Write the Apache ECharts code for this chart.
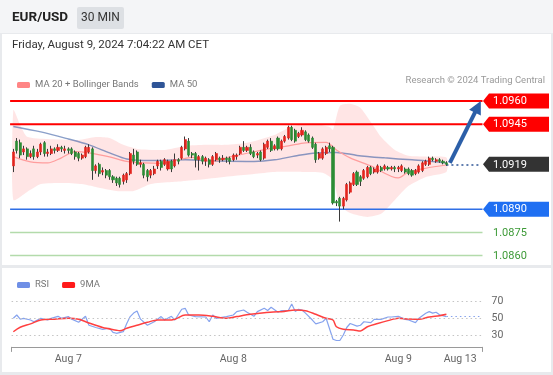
<!DOCTYPE html>
<html><head><meta charset="utf-8">
<script src="https://cdn.jsdelivr.net/npm/echarts@6/dist/echarts.min.js"></script>
<style>html,body{margin:0;padding:0;background:#fff}#c{width:553px;height:375px}</style>
</head><body><div id="c"></div>
<script>
// ---------- DATA ----------
// 30-minute bars, first bar Aug 6 2024 16:00 CET; 127 real bars + 10 empty future slots
const barCount = 137;
const startTime = Date.UTC(2024, 7, 6, 16, 0);
const categories = [];
for (let k = 0; k < barCount; k++) {
  const d = new Date(startTime + k * 1800000);
  categories.push(String(d.getUTCMonth() + 1).padStart(2, '0') + '-' + String(d.getUTCDate()).padStart(2, '0') + ' ' +
    String(d.getUTCHours()).padStart(2, '0') + ':' + String(d.getUTCMinutes()).padStart(2, '0'));
}
const xTickIndex = [16, 64, 112, 130];
const xTickText = ['Aug 7', 'Aug 8', 'Aug 9', 'Aug 13'];

// [open, close, low, high]
const candleOHLC = [
[1.0918,1.0927,1.0914,1.0929],[1.0934,1.0928,1.0926,1.0936],[1.0933,1.0925,1.0923,1.0935],[1.0927,1.0929,1.0925,1.0931],
[1.0929,1.0924,1.0922,1.0930],[1.0924,1.0926,1.0923,1.0928],[1.0929,1.0924,1.0922,1.0931],[1.0924,1.0927,1.0923,1.0929],
[1.0927,1.0932,1.0925,1.0933],[1.0933,1.0926,1.0924,1.0934],[1.0926,1.0927,1.0924,1.0929],[1.0926,1.0929,1.0925,1.0931],
[1.0929,1.0928,1.0926,1.0930],[1.0928,1.0930,1.0927,1.0932],[1.0930,1.0929,1.0927,1.0931],[1.0928,1.0929,1.0926,1.0931],
[1.0929,1.0928,1.0926,1.0930],[1.0929,1.0926,1.0925,1.0930],[1.0927,1.0924,1.0922,1.0928],[1.0926,1.0923,1.0921,1.0927],
[1.0923,1.0925,1.0922,1.0926],[1.0924,1.0930,1.0923,1.0931],[1.0927,1.0930,1.0926,1.0932],[1.0929,1.0915,1.0909,1.0930],
[1.0915,1.0918,1.0913,1.0919],[1.0919,1.0913,1.0911,1.0920],[1.0914,1.0915,1.0912,1.0917],[1.0915,1.0912,1.0910,1.0916],
[1.0915,1.0911,1.0909,1.0916],[1.0911,1.0909,1.0907,1.0912],[1.0910,1.0907,1.0905,1.0911],[1.0910,1.0906,1.0904,1.0911],
[1.0908,1.0912,1.0906,1.0913],[1.0909,1.0913,1.0907,1.0914],[1.0913,1.0926,1.0912,1.0927],[1.0925,1.0921,1.0919,1.0929],
[1.0927,1.0919,1.0918,1.0928],[1.0919,1.0920,1.0917,1.0922],[1.0919,1.0912,1.0910,1.0920],[1.0915,1.0911,1.0908,1.0916],
[1.0912,1.0915,1.0910,1.0916],[1.0913,1.0916,1.0912,1.0918],[1.0918,1.0921,1.0916,1.0922],[1.0921,1.0917,1.0915,1.0922],
[1.0919,1.0922,1.0918,1.0923],[1.0916,1.0921,1.0915,1.0922],[1.0921,1.0916,1.0914,1.0922],[1.0918,1.0922,1.0917,1.0926],
[1.0922,1.0921,1.0919,1.0923],[1.0923,1.0930,1.0922,1.0931],[1.0929,1.0935,1.0928,1.0937],[1.0934,1.0925,1.0924,1.0936],
[1.0926,1.0925,1.0923,1.0927],[1.0926,1.0922,1.0917,1.0927],[1.0922,1.0924,1.0915,1.0925],[1.0924,1.0921,1.0919,1.0925],
[1.0921,1.0923,1.0918,1.0924],[1.0922,1.0919,1.0917,1.0923],[1.0919,1.0924,1.0918,1.0925],[1.0922,1.0926,1.0921,1.0927],
[1.0923,1.0922,1.0920,1.0924],[1.0922,1.0923,1.0921,1.0925],[1.0923,1.0922,1.0920,1.0924],[1.0923,1.0921,1.0919,1.0924],
[1.0922,1.0925,1.0921,1.0926],[1.0924,1.0925,1.0922,1.0926],[1.0926,1.0930,1.0925,1.0931],[1.0930,1.0928,1.0927,1.0934],
[1.0928,1.0930,1.0927,1.0931],[1.0930,1.0926,1.0925,1.0932],[1.0927,1.0924,1.0923,1.0928],[1.0925,1.0926,1.0923,1.0927],
[1.0927,1.0922,1.0921,1.0928],[1.0923,1.0932,1.0922,1.0933],[1.0930,1.0934,1.0929,1.0935],[1.0934,1.0928,1.0927,1.0936],
[1.0929,1.0931,1.0928,1.0932],[1.0936,1.0929,1.0928,1.0937],[1.0929,1.0934,1.0928,1.0935],[1.0934,1.0937,1.0933,1.0938],
[1.0936,1.0943,1.0935,1.0944],[1.0943,1.0935,1.0934,1.0944],[1.0941,1.0934,1.0933,1.0942],[1.0937,1.0939,1.0936,1.0940],
[1.0938,1.0941,1.0937,1.0943],[1.0940,1.0935,1.0934,1.0941],[1.0938,1.0934,1.0933,1.0939],[1.0936,1.0930,1.0929,1.0937],
[1.0932,1.0922,1.0920,1.0933],[1.0923,1.0926,1.0922,1.0927],[1.0923,1.0929,1.0922,1.0930],[1.0926,1.0930,1.0925,1.0931],
[1.0931,1.0929,1.0927,1.0933],[1.0930,1.0894,1.0893,1.0931],[1.0895,1.0894,1.0892,1.0896],[1.0897,1.0892,1.0882,1.0898],
[1.0892,1.0897,1.0890,1.0898],[1.0896,1.0906,1.0895,1.0907],[1.0901,1.0907,1.0900,1.0908],[1.0906,1.0913,1.0905,1.0914],
[1.0914,1.0906,1.0905,1.0915],[1.0911,1.0908,1.0905,1.0912],[1.0910,1.0915,1.0909,1.0916],[1.0911,1.0917,1.0910,1.0918],
[1.0917,1.0913,1.0912,1.0918],[1.0914,1.0916,1.0913,1.0917],[1.0914,1.0918,1.0913,1.0919],[1.0917,1.0915,1.0914,1.0918],
[1.0916,1.0918,1.0915,1.0919],[1.0917,1.0916,1.0915,1.0918],[1.0916,1.0917,1.0915,1.0918],[1.0917,1.0916,1.0914,1.0918],
[1.0916,1.0917,1.0914,1.0918],[1.0915,1.0918,1.0914,1.0919],[1.0916,1.0914,1.0913,1.0917],[1.0916,1.0913,1.0912,1.0917],
[1.0915,1.0912,1.0911,1.0916],[1.0913,1.0915,1.0912,1.0916],[1.0914,1.0918,1.0913,1.0919],[1.0915,1.0920,1.0914,1.0921],
[1.0919,1.0921,1.0918,1.0922],[1.0919,1.0923,1.0918,1.0924],[1.0923,1.0922,1.0921,1.0924],[1.0921,1.0922,1.0920,1.0923],
[1.0922,1.0921,1.0920,1.0923],[1.0921,1.0920,1.0919,1.0922],[1.0920,1.0919,1.0918,1.0921]
];

// indicator lines read at sample bars: [barIndex, value]
const ma20Points = [[0,1.09240],[5,1.09206],[10,1.09199],[14,1.09232],[18,1.09272],[22,1.09264],[28,1.09238],[33,1.09209],
[38,1.09199],[43,1.09196],[48,1.09219],[52,1.09235],[58,1.09209],[63,1.09238],[68,1.09262],[75,1.09293],[80,1.09309],
[85,1.09329],[91,1.09332],[94,1.09283],[98,1.09232],[104,1.09180],[112,1.09102],[115,1.09141],[120,1.09165],[126,1.09186]];
const ma50Points = [[0,1.09435],[8,1.09400],[16,1.09354],[22,1.09316],[28,1.09264],[33,1.09225],[40,1.09215],[50,1.09219],
[60,1.09212],[70,1.09209],[76,1.09219],[82,1.09244],[88,1.09264],[94,1.09267],[100,1.09248],[108,1.09232],[116,1.09219],
[122,1.09209],[126,1.09199]];
const bbUpperPoints = [[0,1.09542],[2,1.09445],[4,1.09369],[10,1.09354],[19,1.09348],[24,1.09367],[28,1.09361],[32,1.09316],
[36,1.09290],[44,1.09283],[50,1.09309],[56,1.09316],[62,1.09316],[68,1.09329],[76,1.09380],[80,1.09425],[84,1.09451],
[88,1.09451],[92,1.09432],[93,1.09413],[95,1.09568],[98,1.09581],[101,1.09555],[104,1.09464],[107,1.09367],[111,1.09283],
[115,1.09245],[120,1.09240],[126,1.09235]];
const bbLowerPoints = [[0,1.08960],[4,1.09012],[8,1.09063],[14,1.09070],[20,1.09063],[24,1.09044],[30,1.09018],[35,1.09018],
[40,1.09063],[46,1.09076],[50,1.09083],[56,1.09096],[64,1.09115],[70,1.09128],[76,1.09141],[84,1.09141],[90,1.09135],
[93,1.09089],[95,1.08928],[98,1.08876],[103,1.08850],[107,1.08870],[111,1.08960],[115,1.09051],[120,1.09109],[126,1.09141]];

const rsiPoints = [[0,50],[1,53.8],[2,49],[3,50],[5,48],[6,46],[8,50],[10,48],[11,50],[13,52.3],[14,50],[16,52],[17,49],
[19,45.4],[21,52.3],[22,42],[24,39.4],[26,37.3],[28,38.5],[29,33.8],[30,32.7],[32,34.6],[33,44],[34,52],[35,56],[36,58.4],
[37,49],[39,42],[41,46],[43,52],[44,48],[46,52.3],[47,48],[49,60.4],[50,61.5],[51,53.8],[53,52],[56,51.5],[57,46],[58,53.8],
[59,50],[62,52],[64,53.8],[65,57.7],[67,59.6],[68,56.9],[70,52.3],[71,57.7],[73,61.5],[74,59],[75,62.7],[77,56.9],[78,59],
[80,59],[81,66.5],[82,58],[83,60.4],[84,59.6],[85,56],[87,48],[88,43.5],[90,46],[91,50],[93,25.8],[94,24.4],[95,24.4],
[96,30.7],[97,39.4],[98,44],[100,41],[101,42],[102,46],[104,45],[105,48.8],[107,48.8],[109,51.5],[110,51.5],[112,52.3],
[114,48.8],[115,48],[117,45],[118,50],[120,55.8],[121,57.7],[122,56],[123,57],[124,54],[126,52]];
const rsiMaPoints = [[0,34.5],[2,39.7],[5,43.6],[8,48],[12,49],[16,50],[19,49],[22,44.6],[26,39.4],[30,36.3],[31,35.6],
[33,38.5],[36,42],[39,45.4],[42,48],[45,48],[47,49],[50,53.8],[54,53.8],[58,52.3],[62,50],[65,52],[69,54.6],[73,56.5],
[77,57.7],[78,57.7],[82,59.6],[85,58.8],[88,54.6],[91,50],[93,48],[94,40.3],[96,37.3],[99,36.5],[101,35.4],[103,40.3],
[106,44],[109,47.3],[112,50],[115,49.2],[118,48.8],[121,51.5],[124,53],[126,54.6]];
const rsiLast = 52;
const rsiLevels = [70, 50, 30];

// key levels
const levelValues = [1.0960, 1.0945, 1.0919, 1.0890, 1.0875, 1.0860];
const levelKinds  = ['target', 'resistance', 'last', 'pivot', 'support', 'support'];
const lastClose = 1.0919;
const arrowFrom = [127, 1.0920];
const arrowTo = [136, 1.0960];

// ---------- STYLE ----------
const FONT = 'Roboto, "Liberation Sans", Arial, sans-serif';
const UP = '#e3241d', DOWN = '#2c8c34', WICK = '#3a3a3a';
const kindStyle = {
  target:     {line: '#ff0000', width: 2,   tag: '#ff0000', text: '#fff'},
  resistance: {line: '#ff0000', width: 2,   tag: '#ff0000', text: '#fff'},
  last:       {line: null,      width: 0,   tag: '#333333', text: '#fff'},
  pivot:      {line: '#2f6fe6', width: 1.5, tag: '#1f6ff2', text: '#fff'},
  support:    {line: '#b3dbab', width: 1.5, tag: null,      text: '#3d9a37'}
};

const chart = echarts.init(document.getElementById('c'), null, {renderer: 'canvas'});

const option = {
  animation: false,
  textStyle: {fontFamily: FONT},
  graphic: [
    {type: 'rect', z: -10, shape: {x: 0, y: 0, width: 553, height: 375}, style: {fill: '#e8eaed'}},
    {type: 'rect', z: -9, shape: {x: 0, y: 0, width: 553, height: 33}, style: {fill: '#f4f5f7'}},
    {type: 'rect', z: -9, shape: {x: 2, y: 34, width: 549, height: 231}, style: {fill: '#ffffff'}},
    {type: 'rect', z: -9, shape: {x: 2, y: 268, width: 549, height: 104}, style: {fill: '#ffffff'}},
    {type: 'text', z: 5, style: {text: 'EUR/USD', x: 12, y: 18, fill: '#222', font: 'bold 13.5px ' + FONT, verticalAlign: 'middle'}},
    {type: 'rect', z: 4, shape: {x: 77, y: 7, width: 47, height: 22, r: 2}, style: {fill: '#dde0e4'}},
    {type: 'text', z: 5, style: {text: '30 MIN', x: 100.5, y: 18, fill: '#333', font: '12px ' + FONT, align: 'center', verticalAlign: 'middle'}},
    {type: 'text', z: 5, style: {text: 'Friday, August 9, 2024 7:04:22 AM CET', x: 12, y: 45.5, fill: '#333', font: '11.5px ' + FONT, verticalAlign: 'middle'}},
    {type: 'text', z: 5, style: {text: 'Research \u00a9 2024 Trading Central', x: 545, y: 81, fill: '#9a9a9a', font: '9.5px ' + FONT, align: 'right', verticalAlign: 'middle'}}
  ],
  legend: [
    {left: 12, top: 75, icon: 'roundRect', itemWidth: 13, itemHeight: 6, itemGap: 13, selectedMode: false,
     textStyle: {color: '#777', fontSize: 9.5, fontFamily: FONT},
     data: [{name: 'MA 20 + Bollinger Bands', itemStyle: {color: '#ff8585'}}, {name: 'MA 50', itemStyle: {color: '#2f5597'}}]},
    {left: 12, top: 275, icon: 'roundRect', itemWidth: 13, itemHeight: 6, itemGap: 13, selectedMode: false,
     textStyle: {color: '#777', fontSize: 9.5, fontFamily: FONT},
     data: [{name: 'RSI', itemStyle: {color: '#6f8fe6'}}, {name: '9MA', itemStyle: {color: '#ff1a1a'}}]}
  ],
  grid: [
    {left: 11.6, width: 470.9, top: 70, height: 191.8},
    {left: 11.6, width: 470.9, top: 289.7, height: 57.2}
  ],
  xAxis: [
    {type: 'category', gridIndex: 0, data: categories, boundaryGap: true, show: false},
    {type: 'category', gridIndex: 1, data: categories, boundaryGap: true,
     axisLine: {lineStyle: {color: '#9a9a9a', width: 1}},
     axisTick: {show: true, interval: (i) => i === 0, length: 5, lineStyle: {color: '#9a9a9a'}},
     axisLabel: {interval: (i) => xTickIndex.indexOf(i) >= 0, formatter: (v, i) => xTickText[xTickIndex.indexOf(i)],
                 color: '#666', fontSize: 10.5, margin: 7, fontFamily: FONT}}
  ],
  yAxis: [
    {type: 'value', gridIndex: 0, min: 1.0856, max: 1.0980, show: false},
    {type: 'value', gridIndex: 1, min: 17, max: 83, show: false}
  ],
  series: [
    { // Bollinger band fill
      type: 'custom', xAxisIndex: 0, yAxisIndex: 0, z: 1, silent: true,
      data: [[0, bbUpperPoints[0][1]]],
      renderItem: function (params, api) {
        const pts = bbUpperPoints.map(p => api.coord([p[0], p[1]]))
          .concat(bbLowerPoints.slice().reverse().map(p => api.coord([p[0], p[1]])));
        return {type: 'polygon', shape: {points: pts, smooth: 0.2}, style: {fill: 'rgba(255,175,175,0.32)'}};
      }
    },
    { // horizontal key-level lines
      type: 'custom', xAxisIndex: 0, yAxisIndex: 0, z: 2, silent: true,
      data: levelValues.map((v, k) => [0, v, k]),
      renderItem: function (params, api) {
        const v = api.value(1), k = api.value(2);
        const s = kindStyle[levelKinds[k]];
        if (!s.line) return null;
        const y = api.coord([0, v])[1];
        const x1 = params.coordSys.x - 1.5, x2 = params.coordSys.x + params.coordSys.width;
        return {type: 'line', shape: {x1: x1, y1: y, x2: x2, y2: y}, style: {stroke: s.line, lineWidth: s.width}};
      }
    },
    {name: 'MA 50', type: 'line', xAxisIndex: 0, yAxisIndex: 0, data: ma50Points, smooth: 0.3, symbol: 'none', z: 3,
     lineStyle: {color: 'rgba(60,95,165,0.6)', width: 1.5}, itemStyle: {color: '#2f5597'}},
    {name: 'MA 20 + Bollinger Bands', type: 'line', xAxisIndex: 0, yAxisIndex: 0, data: ma20Points, smooth: 0.3, symbol: 'none', z: 3,
     lineStyle: {color: '#ff9d9d', width: 1.2}, itemStyle: {color: '#ff8585'}},
    { // wicks
      type: 'candlestick', xAxisIndex: 0, yAxisIndex: 0, data: candleOHLC, barWidth: 1, z: 4, silent: true,
      itemStyle: {color: WICK, color0: WICK, borderColor: WICK, borderColor0: WICK, borderColorDoji: WICK, borderWidth: 1}
    },
    { // bodies
      type: 'candlestick', xAxisIndex: 0, yAxisIndex: 0, z: 5, silent: true, barWidth: 2.6,
      data: candleOHLC.map(c => [c[0], c[1], Math.min(c[0], c[1]), Math.max(c[0], c[1])]),
      itemStyle: {color: UP, color0: DOWN, borderColor: UP, borderColor0: DOWN, borderColorDoji: WICK, borderWidth: 0.6},
      markLine: {
        silent: true, symbol: 'none', label: {show: false}, animation: false,
        data: [[
          {coord: [126, lastClose], lineStyle: {color: '#2f5597', width: 1.5, type: [2, 3]}},
          {coord: [136, lastClose]}
        ]]
      }
    },
    { // projection arrow
      type: 'custom', xAxisIndex: 0, yAxisIndex: 0, z: 6, silent: true,
      data: [[arrowFrom[0], arrowFrom[1]]],
      renderItem: function (params, api) {
        const a = api.coord(arrowFrom), b = api.coord(arrowTo);
        const dx = b[0] - a[0], dy = b[1] - a[1], L = Math.hypot(dx, dy);
        const ux = dx / L, uy = dy / L, head = 13, hw = 6.5;
        const bx = b[0] - ux * head, by = b[1] - uy * head;
        return {type: 'group', children: [
          {type: 'line', shape: {x1: a[0], y1: a[1], x2: bx + ux, y2: by + uy}, style: {stroke: '#2c5fa8', lineWidth: 4}},
          {type: 'polygon', shape: {points: [[b[0], b[1]], [bx - uy * hw, by + ux * hw], [bx + uy * hw, by - ux * hw]]}, style: {fill: '#2c5fa8'}}
        ]};
      }
    },
    { // level tags on the right
      type: 'custom', xAxisIndex: 0, yAxisIndex: 0, z: 7, silent: true,
      data: levelValues.map((v, k) => [136, v, k]),
      renderItem: function (params, api) {
        const v = api.value(1), k = api.value(2);
        const s = kindStyle[levelKinds[k]];
        const y = api.coord([0, v])[1];
        const x0 = params.coordSys.x + params.coordSys.width + 0.5;
        const children = [];
        if (s.tag) {
          children.push({type: 'polygon', shape: {points: [[x0, y], [x0 + 6, y - 7.5], [x0 + 66, y - 7.5], [x0 + 66, y + 7.5], [x0 + 6, y + 7.5]]},
                         style: {fill: s.tag}});
        }
        children.push({type: 'text', style: {text: v.toFixed(4), x: x0 + 10, y: y + 0.5, fill: s.text, font: '11px ' + FONT, verticalAlign: 'middle'}});
        return {type: 'group', children: children};
      }
    },
    {name: 'RSI', type: 'line', xAxisIndex: 1, yAxisIndex: 1, data: rsiPoints, symbol: 'none', z: 3,
     lineStyle: {color: '#86a3ee', width: 1.2}, itemStyle: {color: '#6f8fe6'},
     markLine: {
       silent: true, symbol: 'none', animation: false,
       label: {show: true, position: 'end', distance: 9, color: '#666', fontSize: 10.5, fontFamily: FONT, formatter: '{c}'},
       lineStyle: {color: '#c4c4c4', type: [1.5, 3], width: 1},
       data: rsiLevels.map(v => ({yAxis: v})).concat([[
         {coord: [126, rsiLast], lineStyle: {color: '#86a3ee', type: [1.5, 3], width: 1.2}, label: {show: false}},
         {coord: [136, rsiLast]}
       ]])
     }},
    {name: '9MA', type: 'line', xAxisIndex: 1, yAxisIndex: 1, data: rsiMaPoints, smooth: 0.3, symbol: 'none', z: 4,
     lineStyle: {color: '#ff4040', width: 1.5}, itemStyle: {color: '#ff1a1a'}}
  ]
};
chart.setOption(option);
</script>
</body></html>
